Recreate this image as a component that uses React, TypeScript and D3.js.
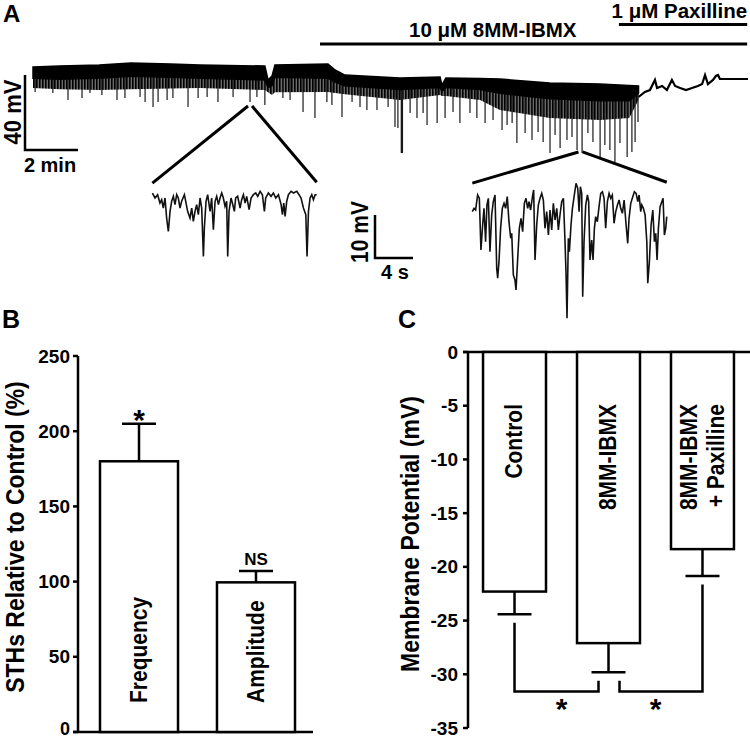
import React from 'react';
import * as d3 from 'd3';

const FONT = "'Liberation Sans', Arial, Helvetica, sans-serif";

// ---- Panel A: whole recording (time in min, potential offset in mV) ----
const traceTime = [0, 1, 2.5, 3.7, 5.2, 6.3, 8.75, 8.87, 9.02, 9.13, 11.13, 11.4, 11.77, 13.85, 15.36, 15.43, 15.58, 16.87, 17.62, 19.5, 21.4, 22.5, 22.85];
const traceTop = [0, 0.5, 1.1, 2.1, 1.6, 1.1, 0.5, -6.9, -4.8, 1.1, 1.6, -1.6, -4.3, -5.9, -5.3, -9.6, -5.9, -6.1, -6.4, -8.5, -9.1, -9.8, -10.1];
const traceCore = [-6, -6.5, -6, -5, -5.5, -6, -7, -11, -10, -5.5, -6, -8, -10, -12, -11, -13, -11, -12, -14, -17, -18, -18, -14];
const traceBottom = [-11.2, -11.8, -12.3, -11.8, -11.5, -11.2, -12.3, -13.5, -14.9, -13.5, -13.3, -13.8, -14.5, -17.6, -14.9, -15.5, -15.5, -17.6, -22.9, -27.2, -28.3, -27.2, -17.6];

const spikeTime = [0.08, 0.75, 1.32, 1.85, 2.15, 2.6, 3.17, 3.47, 4.04, 4.23, 4.53, 4.72, 5.06, 5.28, 5.85, 6.23, 6.57, 6.98, 7.55, 8.19, 8.45,
  8.75, 9.43, 9.7, 10.19, 10.64, 11.09, 11.28, 11.66, 12.04, 12.34, 12.6, 12.98, 13.4, 13.66, 13.77, 13.92, 14.23, 14.49, 14.72, 14.87,
  15.25, 15.55, 15.85, 16.11, 16.49, 16.75, 17.06, 17.36, 17.7, 17.89, 18.08, 18.26, 18.57, 18.83, 19.06, 19.25, 19.51, 19.7, 19.89,
  20.15, 20.34, 20.53, 20.72, 20.94, 21.13, 21.4, 21.58, 21.77, 21.96, 22.15, 22.42, 22.6, 22.72, 22.83];
const spikeDepth = [-13.3, -13.9, -17.6, -16.5, -13.9, -14.9, -17.6, -16.5, -16, -18.7, -21.3, -18.7, -17.6, -16.5, -21.3, -16.5, -16, -18.7, -16, -18.7, -16,
  -20.3, -16.5, -17.6, -24, -27.2, -18.7, -20.3, -26.7, -18.7, -21.3, -22.9, -22.9, -21.3, -32, -32.5, -45.9, -24.5, -27.2, -24.5, -30.9,
  -29.9, -27.2, -24, -29.9, -24.5, -27.2, -29.9, -28.3, -33.6, -30.9, -29.9, -40.5, -35.2, -38.9, -34.7, -40, -45.9, -36.3, -43.2,
  -38.9, -37.3, -44.3, -45.9, -35.2, -40, -48.5, -41.6, -44.3, -50.7, -40.5, -48, -45.3, -40, -29.3];

const tailTime = [22.85, 23.09, 23.28, 23.47, 23.55, 23.74, 23.92, 24.11, 24.23, 24.42, 24.64, 24.87, 25.09, 25.25, 25.36, 25.47, 25.66, 25.77, 25.85, 25.92, 26.98];
const tailV = [-16, -13.3, -12.3, -6.9, -11.2, -10.1, -12.3, -6.9, -10.1, -11.2, -12.3, -11.2, -10.1, -9.1, -4.3, -9.1, -6.9, -4.8, -4.3, -6.4, -6.4];

const drugLabels = ['10 \u03bcM 8MM-IBMX', '1 \u03bcM Paxilline'];
const drugStart = [10.83, 22.11];
const drugEnd = 26.95;

// points on the recording that are expanded below (min, mV)
const zoomTime = [8.19, 20.66];
const zoomV = [-20.8, -45.3];

// ---- Panel A insets (time in s, mV) ----
const inset1Time = [0.04, 0.32, 0.59, 0.84, 1.02, 1.19, 1.37, 1.54, 1.72, 1.9, 2.07, 2.25, 2.42, 2.6, 2.77, 2.95, 3.12, 3.41, 3.55, 3.75,
  4.0, 4.18, 4.35, 4.53, 4.7, 4.88, 5.06, 5.23, 5.41, 5.51, 5.69, 5.86, 6.11, 6.28, 6.46, 6.64, 6.81, 6.99, 7.16, 7.34, 7.51, 7.69, 7.86,
  7.97, 8.11, 8.32, 8.46, 8.67, 8.81, 9.02, 9.27, 9.44, 9.62, 9.8, 9.97, 10.22, 10.43, 10.67, 10.92, 11.13, 11.38, 11.62, 11.83, 11.97,
  12.25, 12.53, 12.78, 13.03, 13.31, 13.59, 13.73, 13.87, 14.01, 14.18, 14.36, 14.64, 14.89, 15.24, 15.48, 15.69, 15.94, 16.19, 16.32,
  16.47, 16.64, 16.82, 16.99, 17.17, 17.34];
const inset1V = [-0.7, -1.86, -1.09, -3.02, -2.25, -4.19, -1.86, -6.51, -9.61, -4.96, -2.63, -1.47, -3.41, -1.09, -1.86, -4.19, -2.63, -1.09, -2.63, -4.96,
  -6.51, -4.19, -7.28, -4.96, -3.41, -5.74, -1.86, -4.19, -15.44, -8.84, -2.63, -1.09, -4.96, -1.86, -9.21, -2.63, -1.47, -3.41, -1.86, -0.7, -1.86, -3.79, -2.63,
  -15.44, -4.96, -1.86, -3.02, -4.96, -1.86, -1.47, -4.19, -2.25, -1.09, -3.02, -1.47, -4.58, -1.86, -1.09, -0.7, -1.47, -0.31, -1.09, -4.96, -1.86,
  -0.7, -1.47, -0.7, -1.86, -1.09, -3.41, -5.74, -3.02, -6.12, -2.63, -1.09, -0.31, -0.7, -0.31, -1.09, -1.86, -4.19, -5.74, -15.44,
  -4.96, -1.86, -1.09, -2.25, -1.09, -1.09];

const inset2Time = [0, 0.18, 0.35, 0.56, 0.74, 0.91, 1.09, 1.23, 1.4, 1.54, 1.69, 1.86, 2.04, 2.21, 2.39, 2.57, 2.67, 2.81, 2.98, 3.16,
  3.34, 3.51, 3.68, 3.86, 4.04, 4.15, 4.32, 4.49, 4.6, 4.78, 4.95, 5.13, 5.3, 5.48, 5.65, 5.83, 5.97, 6.14, 6.36, 6.46, 6.6, 6.78, 6.95,
  7.13, 7.31, 7.48, 7.65, 7.83, 8.01, 8.18, 8.36, 8.53, 8.71, 8.89, 9.06, 9.23, 9.41, 9.59, 9.76, 9.87, 9.97, 10.11, 10.22, 10.39, 10.54,
  10.74, 10.92, 11.1, 11.24, 11.38, 11.52, 11.62, 11.76, 11.94, 12.12, 12.25, 12.39, 12.57, 12.71, 12.85, 12.99, 13.16, 13.34, 13.52,
  13.7, 13.87, 14.04, 14.22, 14.4, 14.57, 14.74, 14.92, 15.1, 15.28, 15.45, 15.62, 15.8, 15.98, 16.19, 16.36, 16.5, 16.68, 16.89, 17.06,
  17.24, 17.42, 17.56, 17.73, 17.84, 18.01, 18.19, 18.37, 18.47, 18.64, 18.82, 19.0, 19.17, 19.31, 19.45, 19.59, 19.77, 19.95, 20.08,
  20.22, 20.36, 20.47];
const inset2V = [-5.04, -4.26, -4.65, -1.16, -1.93, -13.95, -8.14, -4.26, -12.02, -3.49, -1.93, -14.34, -5.81, -2.72, -1.16, -18.21, -20.53, -16.67, -8.91, -4.26,
  -3.1, -4.26, -1.55, -7.37, -11.23, -10.07, -19.76, -20.93, -23.25, -15.88, -8.91, -6.58, -9.69, -3.1, -1.93, -4.26, -2.72, -4.65, -1.16, 0, -16.28, -8.14, -3.49,
  -1.93, -0.77, -2.33, -8.91, -5.04, -10.46, -4.65, -9.3, -3.1, -6.98, -4.26, -9.3, -5.81, -2.72, -1.93, -12.02, -19.76, -29.83, -11.23, -14.34, -8.14, -4.26,
  -1.16, 1.55, 0.39, -5.04, 0.77, -0.77, -24.8, -12.02, -3.49, -1.16, -2.72, -16.28, -11.63, -16.28, -8.91, -6.2, -7.37, -3.88, -0.77,
  -0.39, -1.93, -8.91, -2.72, -0.77, -1.93, -1.16, -7.75, -5.04, -3.49, -2.33, -4.26, -5.42, -2.33, -8.14, -12.4, -6.58, -3.1, -1.55, -0.39,
  -0.77, -2.72, -1.16, -5.04, -3.49, -4.26, -5.81, -12.02, -21.7, -16.67, -8.14, -4.65, -12.02, -10.07, -16.28, -8.91, -3.88, -2.72, -1.93,
  -10.46, -8.91, -6.2];

// ---- Panel B ----
const bCategories = ['Frequency', 'Amplitude'];
const bMeans = [180, 99.5];
const bErrors = [25, 7.5];
const bMarks = ['*', 'NS'];
const bTicks = [0, 50, 100, 150, 200, 250];

// ---- Panel C ----
const cCategories = ['Control', '8MM-IBMX', '8MM-IBMX + Paxilline'];
const cLabelLines = [['Control'], ['8MM-IBMX'], ['8MM-IBMX', '+ Paxilline']];
const cMeans = [-22.3, -27.1, -18.35];
const cErrors = [2.1, 2.7, 2.5];
const cTicks = [0, -5, -10, -15, -20, -25, -30, -35];
const cSigPairs = [[0, 1], [1, 2]];
const cSigLevel = -31.6;

const interp = (xs: number[], ys: number[], x: number) => {
  const i = d3.bisectRight(xs, x);
  if (i <= 0) return ys[0];
  if (i >= xs.length) return ys[ys.length - 1];
  const f = (x - xs[i - 1]) / (xs[i] - xs[i - 1]);
  return ys[i - 1] + f * (ys[i] - ys[i - 1]);
};

// rotated labels in the source are a little wider across than their size suggests
const ROT = 'rotate(-90) scale(1,1.1)';

const PanelA = () => {
  const x = d3.scaleLinear().domain([0, 27]).range([33, 748.5]);
  const y = d3.scaleLinear().domain([0, -40]).range([67, 142]);

  const core = d3.area<number>()
    .x((d, i) => x(traceTime[i]))
    .y0((d, i) => y(traceCore[i]))
    .y1((d, i) => y(traceTop[i]));
  const fringe = d3.area<number>()
    .x((d, i) => x(traceTime[i]))
    .y0((d, i) => y(traceBottom[i]))
    .y1((d, i) => y(traceCore[i]));

  const tail = d3.line<number>()
    .x((d, i) => x(tailTime[i]))
    .y((d) => y(d));

  const ix1 = d3.scaleLinear().domain([0, 1]).range([152, 161.5]);
  const ix2 = d3.scaleLinear().domain([0, 1]).range([472.3, 481.8]);
  const iy = d3.scaleLinear().domain([0, -10]).range([190, 233]);

  const inset1 = d3.line<number>().x((d, i) => ix1(inset1Time[i])).y((d) => iy(d));
  const inset2 = d3.line<number>().x((d, i) => ix2(inset2Time[i])).y((d) => iy(d));

  const insetEnds = [
    [ix1(inset1Time[0]), ix1(inset1Time[inset1Time.length - 1])],
    [ix2(inset2Time[0]), ix2(inset2Time[inset2Time.length - 1])],
  ];

  // scale bars
  const sbX = 25, sbY = 150;
  const isbX = 375, isbY = 258;

  return (
    <g>
      <defs>
        <pattern id="hair" width={3} height={6} patternUnits="userSpaceOnUse">
          <rect width={3} height={6} fill="#6a6a6a" />
          <rect width={1.6} height={6} fill="#000" />
        </pattern>
      </defs>
      <text x={3} y={22} fontSize={24} fontWeight="bold">A</text>

      {drugLabels.map((lab, i) => (
        <g key={lab}>
          <line x1={x(drugStart[i])} x2={x(drugEnd)} y1={i === 0 ? 44 : 24.5} y2={i === 0 ? 44 : 24.5}
            stroke="#000" strokeWidth={3} />
          <text x={i === 0 ? x(17.35) : x(drugEnd)} y={i === 0 ? 37 : 18} fontSize={20.5} fontWeight="bold"
            textAnchor={i === 0 ? 'middle' : 'end'}>{lab}</text>
        </g>
      ))}

      <path d={fringe(traceTime) || ''} fill="url(#hair)" />
      {spikeTime.map((t, i) => (
        <line key={i} x1={x(t)} x2={x(t)} y1={y(interp(traceTime, traceCore, t))} y2={y(spikeDepth[i])}
          stroke="#1a1a1a" strokeWidth={i === 36 ? 2.4 : 1.2} />
      ))}
      <path d={core(traceTime) || ''} fill="#000" stroke="#000" strokeWidth={1.5} />
      <path d={tail(tailV) || ''} fill="none" stroke="#000" strokeWidth={2.2} />

      {/* 2 min / 40 mV */}
      <path d={`M${sbX},${sbY - (y(-40) - y(0))}V${sbY}H${sbX + x(2) - x(0)}`} fill="none" stroke="#000" strokeWidth={2.5} />
      <text transform={`translate(13,${sbY - 38}) ${ROT}`} textAnchor="middle" dominantBaseline="central"
        fontSize={22} fontWeight="bold">40 mV</text>
      <text x={sbX + 25} y={sbY + 22} textAnchor="middle" fontSize={20} fontWeight="bold">2 min</text>

      {/* connectors to expanded traces */}
      {zoomTime.map((t, i) => (
        <g key={i} stroke="#000" strokeWidth={3}>
          <line x1={x(t) - 2} y1={y(zoomV[i])} x2={insetEnds[i][0]} y2={iy(1.6)} />
          <line x1={x(t) + 2} y1={y(zoomV[i])} x2={insetEnds[i][1]} y2={iy(1.8)} />
        </g>
      ))}

      <path d={inset1(inset1V) || ''} fill="none" stroke="#111" strokeWidth={1.6} />
      <path d={inset2(inset2V) || ''} fill="none" stroke="#111" strokeWidth={1.6} />

      {/* 4 s / 10 mV */}
      <path d={`M${isbX},${isbY - (iy(-10) - iy(0))}V${isbY}H${isbX + ix1(4) - ix1(0)}`} fill="none" stroke="#000" strokeWidth={2.5} />
      <text transform={`translate(360,${isbY - 26}) ${ROT}`} textAnchor="middle" dominantBaseline="central"
        fontSize={21} fontWeight="bold">10 mV</text>
      <text x={isbX + 20} y={isbY + 21} textAnchor="middle" fontSize={20} fontWeight="bold">4 s</text>
    </g>
  );
};

const PanelB = () => {
  const y = d3.scaleLinear().domain([0, 250]).range([732, 356]);
  const x = d3.scaleBand<string>().domain(bCategories).range([78, 317]).paddingInner(0.333).paddingOuter(0.188);
  const bw = x.bandwidth();
  return (
    <g>
      <text x={2} y={328} fontSize={25} fontWeight="bold">B</text>
      <line x1={78} x2={78} y1={y(250)} y2={y(0)} stroke="#000" strokeWidth={2.5} />
      <line x1={73} x2={313} y1={y(0)} y2={y(0)} stroke="#000" strokeWidth={2.5} />
      {bTicks.map((t) => (
        <g key={t}>
          <line x1={73} x2={78} y1={y(t)} y2={y(t)} stroke="#000" strokeWidth={2.5} />
          <text x={70} y={y(t) + (t === 0 ? 3 : 6.5)} textAnchor="end"
            fontSize={t === 0 ? 18 : 19} fontWeight="bold">{t}</text>
        </g>
      ))}
      <text transform={`translate(15,537) ${ROT}`} textAnchor="middle" dominantBaseline="central"
        fontSize={23} fontWeight="bold">STHs Relative to Control (%)</text>
      {bCategories.map((c, i) => {
        const cx = (x(c) as number) + bw / 2;
        const top = y(bMeans[i] + bErrors[i]);
        return (
          <g key={c}>
            <line x1={cx} x2={cx} y1={y(bMeans[i])} y2={top} stroke="#000" strokeWidth={2.5} />
            <line x1={cx - 17} x2={cx + 17} y1={top} y2={top} stroke="#000" strokeWidth={2.5} />
            <rect x={x(c)} y={y(bMeans[i])} width={bw} height={y(0) - y(bMeans[i])} fill="#fff" stroke="#000" strokeWidth={2.5} />
            <text transform={`translate(${cx},703) ${ROT}`} dominantBaseline="central" fontSize={21} fontWeight="bold">{c}</text>
            {bMarks[i] === '*'
              ? <text x={cx} y={top + 6} textAnchor="middle" fontSize={30} fontWeight="bold">*</text>
              : <text x={cx} y={top - 6} textAnchor="middle" fontSize={17} fontWeight="bold">{bMarks[i]}</text>}
          </g>
        );
      })}
    </g>
  );
};

const PanelC = () => {
  const y = d3.scaleLinear().domain([0, -35]).range([352, 728]);
  const x = d3.scaleBand<string>().domain(cCategories).range([468, 749]).paddingInner(0.33).paddingOuter(0.16);
  const bw = x.bandwidth();
  const cx = (i: number) => (x(cCategories[i]) as number) + bw / 2;
  return (
    <g>
      <text x={398} y={328} fontSize={25} fontWeight="bold">C</text>
      <line x1={468} x2={468} y1={y(0)} y2={y(-35)} stroke="#000" strokeWidth={2.5} />
      <line x1={463} x2={750} y1={y(0)} y2={y(0)} stroke="#000" strokeWidth={2.5} />
      {cTicks.map((t) => (
        <g key={t}>
          <line x1={463} x2={468} y1={y(t)} y2={y(t)} stroke="#000" strokeWidth={2.5} />
          <text x={458} y={y(t)} textAnchor="end" dominantBaseline="central" fontSize={19} fontWeight="bold">{t}</text>
        </g>
      ))}
      <text transform={`translate(410,534) ${ROT}`} textAnchor="middle" dominantBaseline="central"
        fontSize={23} fontWeight="bold">Membrane Potential (mV)</text>
      {cCategories.map((c, i) => {
        const bot = y(cMeans[i] - cErrors[i]);
        const lines = cLabelLines[i];
        return (
          <g key={c}>
            <line x1={cx(i)} x2={cx(i)} y1={y(cMeans[i])} y2={bot} stroke="#000" strokeWidth={2.5} />
            <line x1={cx(i) - 17} x2={cx(i) + 17} y1={bot} y2={bot} stroke="#000" strokeWidth={2.5} />
            <rect x={x(c)} y={y(0)} width={bw} height={y(cMeans[i]) - y(0)} fill="#fff" stroke="#000" strokeWidth={2.5} />
            {lines.map((l, j) => (
              <text key={l} transform={`translate(${cx(i) + (j - (lines.length - 1) / 2) * 27},404) ${ROT}`}
                textAnchor="end" dominantBaseline="central" fontSize={21} fontWeight="bold">{l}</text>
            ))}
          </g>
        );
      })}
      {cSigPairs.map(([a, b], k) => {
        const lvl = y(cSigLevel);
        const inner = y(cSigLevel + 1);
        const leftX = k === 0 ? cx(a) : cx(a) + 11;
        const rightX = k === 0 ? cx(b) - 10 : cx(b);
        const leftTop = k === 0 ? y(cMeans[a] - cErrors[a] - 0.8) : inner;
        const rightTop = k === 0 ? inner : y(cMeans[b] - cErrors[b] - 0.8);
        return (
          <g key={k}>
            <path d={`M${leftX},${leftTop}V${lvl}H${rightX}V${rightTop}`} fill="none" stroke="#000" strokeWidth={2.5} />
            <text x={(cx(a) + cx(b)) / 2} y={y(-32.9) + 14} textAnchor="middle" fontSize={30} fontWeight="bold">*</text>
          </g>
        );
      })}
    </g>
  );
};

export default function App() {
  return (
    <svg width={750} height={740} style={{ position: 'absolute', left: 0, top: 0, background: '#fff' }}
      fontFamily={FONT}>
      <rect width={750} height={740} fill="#fff" />
      <PanelA />
      <PanelB />
      <PanelC />
    </svg>
  );
}
